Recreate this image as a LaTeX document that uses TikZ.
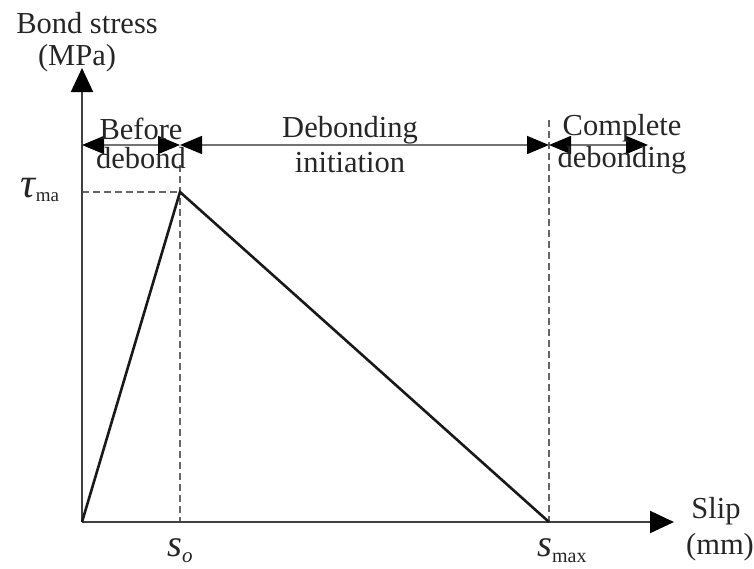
\documentclass[tikz,border=0pt]{standalone}
\usepackage{fontspec}
\setmainfont{Liberation Serif}
\usetikzlibrary{arrows.meta}
\begin{document}
\begin{tikzpicture}[x=1pt,y=-1pt,
  font=\fontsize{30.5}{32}\selectfont,
  axis/.style={line width=2pt, draw=black!75},
  axtip/.style={-{Triangle[length=24pt,width=22pt,color=black]}},
  dim/.style={line width=1.6pt, draw=black!55,
    {Triangle[length=22pt,width=18pt,color=black]}-{Triangle[length=22pt,width=18pt,color=black]}},
  guide/.style={line width=1.3pt, draw=black!60, dash pattern=on 7pt off 4pt},
  curve/.style={line width=2.6pt, draw=black!90},
  lbl/.style={inner sep=0pt, anchor=base, text=black!85}]
\useasboundingbox (0,0) rectangle (754,568);

% key points
\coordinate (O) at (82,522);
\coordinate (P) at (180,192);
\coordinate (So) at (180,522);
\coordinate (Sm) at (549,522);
\coordinate (Ytop) at (82,68);
\coordinate (Xend) at (674,522);
\coordinate (Tau) at (82,192);
\coordinate (SoTop) at (180,165);
\coordinate (SmTop) at (549,120);
\coordinate (A0) at (82,145);
\coordinate (A1) at (180,145);
\coordinate (A2) at (549,145);
\coordinate (A3) at (648,145);

% guides
\draw[guide] (Tau) -- (P);
\draw[guide] (SoTop) -- (So);
\draw[guide] (SmTop) -- (Sm);

% axes
\draw[axis,axtip] (O) -- (Ytop);
\draw[axis,axtip] (O) -- (Xend);

% bond-slip curve
\draw[curve, line join=miter] (O) -- (P) -- (Sm);

% stage arrows
\draw[dim] (A0) -- (A1);
\draw[dim] (A1) -- (A2);
\draw[dim] (A2) -- (A3);

% labels
\node[lbl] (ylab1) at (87,33) {Bond stress};
\node[lbl] (ylab2) at (77,65) {(MPa)};
\node[lbl] (b1) at (141,139) {Before};
\node[lbl] (b2) at (141,168) {debond};
\node[lbl] (d1) at (350,137) {Debonding};
\node[lbl] (d2) at (350,172) {initiation};
\node[lbl] (c1) at (622,135) {Complete};
\node[lbl] (c2) at (622,167) {debonding};
\node[lbl] (tau) at (40,197) {{\fontsize{42}{44}\selectfont\itshape τ}\raisebox{-0.3ex}{\fontsize{19}{20}\selectfont ma}};
\node[lbl] (so) at (180,556) {\fontsize{38}{40}\selectfont\itshape s\raisebox{-0.4ex}{\fontsize{21}{22}\selectfont o}};
\node[lbl] (sm) at (562,556) {\fontsize{38}{40}\selectfont\itshape s\raisebox{-0.4ex}{\fontsize{20}{22}\selectfont\upshape max}};
\node[lbl] (x1) at (716,518) {Slip};
\node[lbl] (x2) at (720,554) {(mm)};
\end{tikzpicture}
\end{document}
